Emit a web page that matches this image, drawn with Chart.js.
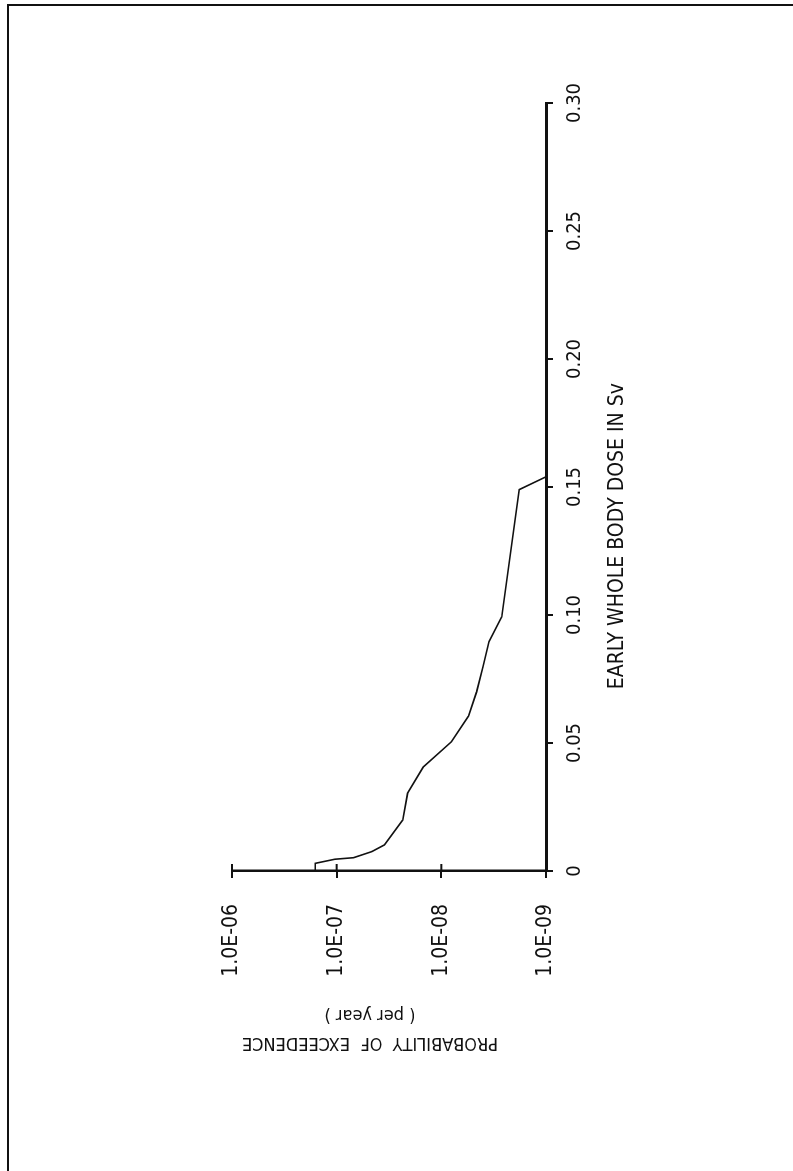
<!DOCTYPE html>
<html>
<head>
<meta charset="utf-8">
<script src="https://cdn.jsdelivr.net/npm/chart.js@4.4.0/dist/chart.umd.min.js"></script>
<style>
  html, body { margin: 0; padding: 0; background: #fff; }
  body { width: 793px; height: 1171px; position: relative; overflow: hidden; }
  #frame {
    position: absolute; left: 7px; top: 4px; width: 800px; height: 1165px;
    border-left: 2px solid #111; border-top: 2px solid #111; border-bottom: 1px solid #bbb;
  }
  /* the chart is drawn landscape and turned a quarter turn, like the printed page */
  #sheet {
    position: absolute; left: 0; top: 0; width: 1171px; height: 793px;
    transform-origin: 0 0; transform: translateY(1171px) rotate(-90deg);
  }
</style>
</head>
<body>
<div id="frame"></div>
<div id="sheet"><canvas id="doseChart" width="1171" height="793"></canvas></div>
<script>
const doseTicks = [0, 0.05, 0.10, 0.15, 0.20, 0.25, 0.30];
const doseTickLabels = ["0", "0.05", "0.10", "0.15", "0.20", "0.25", "0.30"];
const probTicks = [1e-9, 1e-8, 1e-7, 1e-6];
const probTickLabels = ["1.0E-09", "1.0E-08", "1.0E-07", "1.0E-06"];

// curve (dose in Sv, probability per year)
const doseValues = [0, 0.003, 0.0046, 0.0052, 0.0076, 0.0102, 0.0199, 0.0304, 0.0406,
  0.0505, 0.0605, 0.070, 0.0798, 0.0896, 0.0993, 0.149, 0.154];
const exceedenceValues = [1.6e-7, 1.6e-7, 1.04e-7, 6.9e-8, 4.6e-8, 3.5e-8, 2.34e-8, 2.1e-8, 1.49e-8,
  8.0e-9, 5.5e-9, 4.6e-9, 4.0e-9, 3.5e-9, 2.65e-9, 1.8e-9, 1.0e-9];

const doseTitle = "EARLY WHOLE BODY DOSE IN Sv";
const probTitle = ["PROBABILITY  OF  EXCEEDENCE", "( per year )"];

const FONT = '"DejaVu Sans Condensed", "DejaVu Sans", sans-serif';
const INK = "#111";

// probability ticks cross the axis: Chart.js draws the outer half, this adds the inner half
const crossTicks = {
  id: "crossTicks",
  afterDraw(chart) {
    const { ctx } = chart;
    const y = chart.scales.y;
    ctx.save();
    ctx.strokeStyle = INK;
    ctx.lineWidth = 2;
    probTicks.forEach((v) => {
      const py = y.getPixelForValue(v);
      ctx.beginPath();
      ctx.moveTo(y.right, py);
      ctx.lineTo(y.right + 7, py);
      ctx.stroke();
    });
    ctx.restore();
  },
};

const axisTitles = {
  id: "axisTitles",
  afterDraw(chart) {
    const { ctx, chartArea: a } = chart;
    ctx.save();
    ctx.fillStyle = INK;
    ctx.textAlign = "center";
    ctx.textBaseline = "middle";
    ctx.font = "21px " + FONT;
    ctx.fillText(doseTitle, a.left + 0.436 * (a.right - a.left), a.bottom + 72);

    ctx.translate(a.left - 172, (a.top + a.bottom) / 2 - 19);
    ctx.rotate(-Math.PI / 2);
    ctx.font = "18px " + FONT;
    ctx.fillText(probTitle[0], 0, 0);
    ctx.fillText(probTitle[1], 0, 28);
    ctx.restore();
  },
};

const ctx = document.getElementById("doseChart").getContext("2d");
const chart = new Chart(ctx, {
  type: "line",
  data: {
    datasets: [
      {
        data: doseValues.map((d, i) => ({ x: d, y: exceedenceValues[i] })),
        borderColor: INK,
        borderWidth: 1.6,
        pointRadius: 0,
        tension: 0,
        fill: false,
      },
    ],
  },
  options: {
    responsive: false,
    animation: false,
    layout: { padding: { top: 232, right: 103, bottom: 0, left: 0 } },
    plugins: { legend: { display: false }, tooltip: { enabled: false } },
    scales: {
      x: {
        type: "linear",
        min: 0,
        max: 0.3,
        afterBuildTicks: (s) => { s.ticks = doseTicks.map((v) => ({ value: v })); },
        afterFit: (s) => { s.height = 247; },
        grid: { drawOnChartArea: false, tickLength: 7, lineWidth: 2, color: INK },
        border: { color: INK, width: 3 },
        ticks: {
          autoSkip: false,
          maxRotation: 0,
          color: INK,
          padding: 10,
          font: { family: FONT, size: 20 },
          callback: (v, i) => doseTickLabels[i],
        },
      },
      y: {
        type: "logarithmic",
        min: 1e-9,
        max: 1e-6,
        afterBuildTicks: (s) => { s.ticks = probTicks.map((v) => ({ value: v })); },
        afterFit: (s) => { s.width = 300; },
        grid: { drawOnChartArea: false, tickLength: 7, lineWidth: 2, color: INK },
        border: { color: INK, width: 2.5 },
        ticks: {
          autoSkip: false,
          color: INK,
          padding: 26,
          font: { family: FONT, size: 21 },
          callback: (v, i) => probTickLabels[i],
        },
      },
    },
  },
  plugins: [crossTicks, axisTitles],
});
</script>
</body>
</html>
